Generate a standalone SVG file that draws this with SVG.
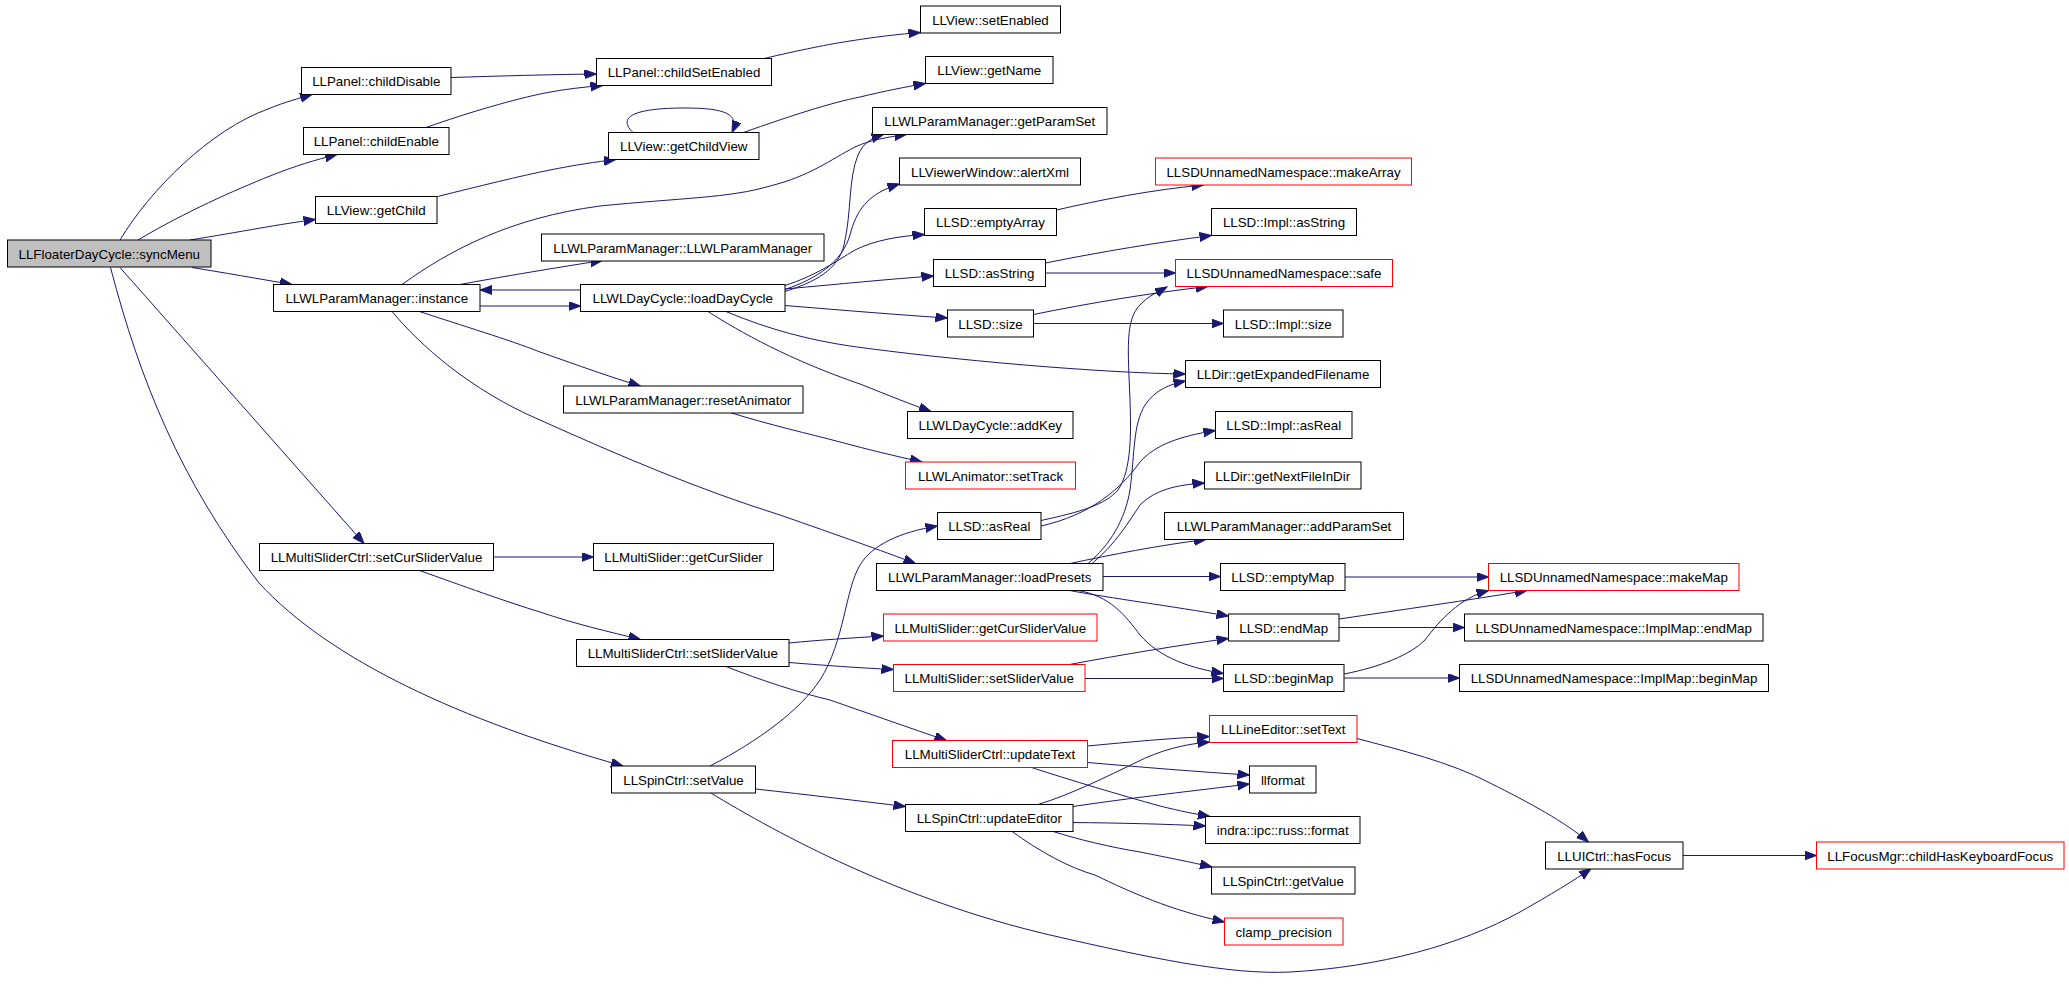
<svg xmlns="http://www.w3.org/2000/svg" width="2069" height="987" viewBox="0 0 2069 987">
<style>
.n rect{fill:#ffffff;stroke:#000000;stroke-width:1}
.n.red rect{stroke:#ff0000}
.n.root rect{fill:#bfbfbf}
.n text{font-family:"Liberation Sans",Arial,Helvetica,sans-serif;font-size:13.33px;text-anchor:middle;fill:#000000}
#edges path{fill:none;stroke:#191970;stroke-width:1;marker-end:url(#arr)}
</style>
<defs>
<marker id="arr" markerUnits="userSpaceOnUse" markerWidth="13" markerHeight="10" refX="12" refY="4.5" orient="auto">
<path d="M0,0 L12,4.5 L0,9 z" fill="#191970" stroke="#191970" stroke-width="1"/>
</marker>
</defs>
<rect x="0" y="0" width="2069" height="987" fill="#ffffff"/>
<g id="edges">
<path d="M120,240 C150,190 210,130 268,109 C285,102 300,98 312,94.5"/>
<path d="M138,240 C185,212 235,190 270,176 C295,166 315,160 337,154.5"/>
<path d="M190,240 C240,232 280,224 315.5,219.5"/>
<path d="M192,267.5 C220,272 260,279 292,284.5"/>
<path d="M120,267.5 L364,543.5"/>
<path d="M110.5,267.5 C140,380 180,480 259,583 C330,660 460,720 623,766"/>
<path d="M451,77.5 C500,76 550,74.5 596.5,74"/>
<path d="M426,127.5 C470,112 515,99 545,93 C565,89 585,87 602.5,85.5"/>
<path d="M764,58.5 C800,50 830,44 850,41 C875,37 900,34 920.5,32.5"/>
<path d="M437.5,196.5 C480,186 520,176 550,170 C575,165 595,162 616,159.5"/>
<path d="M633,132.5 C615,115 640,108 685,108 C725,108 740,114 732,132.5"/>
<path d="M743.5,132.5 C790,116 830,103 860,97 C885,91 905,87 925.5,83.5"/>
<path d="M402,284.5 C450,250 510,218 600,206 C680,198 730,198 770,186 C810,176 830,160 855,147 C870,140 888,137 906.5,134.5"/>
<path d="M785,291.5 C815,282 838,270 844,245 C852,210 848,180 858,155 C864,142 872,138 883.5,134.5"/>
<path d="M785,289.5 C818,278 842,262 850,235 C856,212 866,194 899.5,184"/>
<path d="M785,285.5 C815,276 835,262 855,250 C875,240 900,236 924.5,234.5"/>
<path d="M785,289 C840,284 890,279 933.5,276"/>
<path d="M785,305.5 C840,310 900,315 947.5,318"/>
<path d="M708,311.5 C740,332 790,360 860,384 C890,396 910,404 931,411.5"/>
<path d="M726,311.5 C770,330 810,340 850,346 C950,360 1100,373 1185.5,374"/>
<path d="M460,284.5 C500,277 560,267 602.5,260.5"/>
<path d="M580.5,290 L480,290"/>
<path d="M480,306 C510,306 540,306 580.5,306"/>
<path d="M419.5,311.5 C460,325 510,340 540,352 C580,366 610,377 640.5,386"/>
<path d="M392,311.5 C420,345 470,390 540,420 C620,456 700,490 780,515 C840,536 880,550 915.5,563.5"/>
<path d="M730,412.5 C770,425 810,434 840,442 C870,450 895,456 922,462"/>
<path d="M1056.5,210 C1100,200 1150,190 1203.5,185"/>
<path d="M1045.5,263 C1100,252 1160,242 1211.5,235.5"/>
<path d="M1045.5,273 L1175.5,273"/>
<path d="M1033.5,314.5 C1090,303 1150,293 1208,286.5"/>
<path d="M1033.5,323.5 L1223.5,323.5"/>
<path d="M1041,520.5 C1080,512 1105,505 1118,490 C1132,470 1131,430 1130,400 C1128,350 1125,320 1140,305 C1148,296 1158,292 1167,287"/>
<path d="M1041,526 C1090,515 1120,490 1140,462 C1155,445 1180,436 1215.5,430.5"/>
<path d="M1088,563.5 C1110,545 1125,520 1130,490 C1135,450 1133,425 1145,405 C1155,390 1170,384 1185.5,381"/>
<path d="M1092,563.5 C1115,545 1130,520 1140,505 C1155,490 1175,485 1204.5,483"/>
<path d="M1070,563.5 C1110,555 1160,545 1206,539.5"/>
<path d="M1103,576.5 L1220.5,576.5"/>
<path d="M1069.5,590.5 C1110,598 1170,606 1228.5,616"/>
<path d="M1078,590.5 C1110,596 1125,615 1140,635 C1160,658 1190,668 1223.5,673.5"/>
<path d="M1345,577 L1488.5,577"/>
<path d="M1339,619 C1400,610 1470,600 1527,590.5"/>
<path d="M1339,627.5 L1464.5,627.5"/>
<path d="M1344,674 C1380,667 1410,655 1425,640 C1440,620 1460,598 1488.5,590.5"/>
<path d="M1344,678 L1459.5,678"/>
<path d="M493.5,557 L593.5,557"/>
<path d="M419.5,570.5 C460,585 510,603 540,612 C575,624 610,632 640.5,639.5"/>
<path d="M789,643 C820,640 850,638 883.5,636"/>
<path d="M789,662.5 C820,665 860,668 893.5,669.5"/>
<path d="M726,666.5 C760,680 800,693 830,700 C870,714 910,728 946.5,740.5"/>
<path d="M1069.5,664.5 C1120,655 1180,645 1228.5,638.5"/>
<path d="M1085,678.5 L1223.5,678.5"/>
<path d="M710,766 C760,740 800,710 820,680 C845,640 845,590 860,565 C872,545 900,532 937.5,526"/>
<path d="M755.5,789 C810,795 860,801 905.5,806.5"/>
<path d="M710,792.5 C780,835 900,900 1050,935 C1150,958 1230,975 1290,972 C1380,967 1460,945 1520,912 C1550,895 1575,880 1591,868.5"/>
<path d="M1087.5,746 C1130,742 1170,738 1209.5,736.5"/>
<path d="M1087.5,762.5 C1140,767 1200,772 1249.5,775"/>
<path d="M1031.5,767.5 C1070,780 1120,795 1160,806 C1180,811 1195,814 1210,816.5"/>
<path d="M1038,804.5 C1070,795 1110,775 1135,763 C1160,750 1185,744 1209.5,742"/>
<path d="M1073,806.5 C1130,798 1200,790 1249.5,784"/>
<path d="M1073,822.5 C1120,823 1165,824 1205.5,826"/>
<path d="M1051.5,831 C1080,840 1110,847 1140,852 C1170,858 1190,862 1212,867"/>
<path d="M1011.5,831 C1040,852 1070,868 1095,875 C1130,892 1170,910 1224.5,922"/>
<path d="M1357,738.5 C1400,750 1450,762 1490,783 C1530,803 1565,822 1588.5,842"/>
<path d="M1683,855.5 L1816.5,855.5"/>
</g>
<g id="syncMenu" class="n root"><rect x="7.5" y="240" width="203.5" height="27"/><text x="109.25" y="258.5">LLFloaterDayCycle::syncMenu</text></g>
<g id="childDisable" class="n"><rect x="301.5" y="67.5" width="149.5" height="27"/><text x="376.25" y="86">LLPanel::childDisable</text></g>
<g id="childEnable" class="n"><rect x="303.5" y="127.5" width="145.5" height="27"/><text x="376.25" y="146">LLPanel::childEnable</text></g>
<g id="getChild" class="n"><rect x="315.5" y="196.5" width="121.5" height="27"/><text x="376.25" y="215">LLView::getChild</text></g>
<g id="instance" class="n"><rect x="273.5" y="284.5" width="206.5" height="27"/><text x="376.75" y="303">LLWLParamManager::instance</text></g>
<g id="setCurSliderValue" class="n"><rect x="259.5" y="543.5" width="234" height="27"/><text x="376.5" y="562">LLMultiSliderCtrl::setCurSliderValue</text></g>
<g id="spinSetValue" class="n"><rect x="611.5" y="766" width="144" height="27"/><text x="683.5" y="784.5">LLSpinCtrl::setValue</text></g>
<g id="childSetEnabled" class="n"><rect x="596.5" y="58.5" width="175" height="27"/><text x="684" y="77">LLPanel::childSetEnabled</text></g>
<g id="getChildView" class="n"><rect x="608.5" y="132.5" width="150.5" height="27"/><text x="683.75" y="151">LLView::getChildView</text></g>
<g id="ctor" class="n"><rect x="541.5" y="234" width="282.5" height="27"/><text x="682.75" y="252.5">LLWLParamManager::LLWLParamManager</text></g>
<g id="loadDayCycle" class="n"><rect x="580.5" y="284.5" width="204.5" height="27"/><text x="682.75" y="303">LLWLDayCycle::loadDayCycle</text></g>
<g id="resetAnimator" class="n"><rect x="563.5" y="386" width="239.5" height="27"/><text x="683.25" y="404.5">LLWLParamManager::resetAnimator</text></g>
<g id="getCurSlider" class="n"><rect x="593.5" y="543.5" width="180" height="27"/><text x="683.5" y="562">LLMultiSlider::getCurSlider</text></g>
<g id="mscSetSliderValue" class="n"><rect x="576.5" y="639.5" width="212.5" height="27"/><text x="682.75" y="658">LLMultiSliderCtrl::setSliderValue</text></g>
<g id="setEnabled" class="n"><rect x="920.5" y="6" width="140" height="27"/><text x="990.5" y="24.5">LLView::setEnabled</text></g>
<g id="getName" class="n"><rect x="925.5" y="56.5" width="127.5" height="27"/><text x="989.25" y="75">LLView::getName</text></g>
<g id="getParamSet" class="n"><rect x="872.5" y="107.5" width="234.5" height="27"/><text x="989.75" y="126">LLWLParamManager::getParamSet</text></g>
<g id="alertXml" class="n"><rect x="899.5" y="158" width="181" height="27"/><text x="990" y="176.5">LLViewerWindow::alertXml</text></g>
<g id="emptyArray" class="n"><rect x="924.5" y="208.5" width="132" height="27"/><text x="990.5" y="227">LLSD::emptyArray</text></g>
<g id="asString" class="n"><rect x="933.5" y="259.5" width="112" height="27"/><text x="989.5" y="278">LLSD::asString</text></g>
<g id="size" class="n"><rect x="947.5" y="310" width="86" height="27"/><text x="990.5" y="328.5">LLSD::size</text></g>
<g id="addKey" class="n"><rect x="907.5" y="411.5" width="165.5" height="27"/><text x="990.25" y="430">LLWLDayCycle::addKey</text></g>
<g id="setTrack" class="n red"><rect x="905.5" y="462" width="170" height="27"/><text x="990.5" y="480.5">LLWLAnimator::setTrack</text></g>
<g id="asReal" class="n"><rect x="937.5" y="512.5" width="103.5" height="27"/><text x="989.25" y="531">LLSD::asReal</text></g>
<g id="loadPresets" class="n"><rect x="876.5" y="563.5" width="226.5" height="27"/><text x="989.75" y="582">LLWLParamManager::loadPresets</text></g>
<g id="getCurSliderValue" class="n red"><rect x="883.5" y="614" width="213.5" height="27"/><text x="990.25" y="632.5">LLMultiSlider::getCurSliderValue</text></g>
<g id="msSetSliderValue" class="n red"><rect x="893.5" y="664.5" width="191.5" height="27"/><text x="989.25" y="683">LLMultiSlider::setSliderValue</text></g>
<g id="updateText" class="n red"><rect x="892.5" y="740.5" width="195" height="27"/><text x="990" y="759">LLMultiSliderCtrl::updateText</text></g>
<g id="updateEditor" class="n"><rect x="905.5" y="804.5" width="167.5" height="27"/><text x="989.25" y="823">LLSpinCtrl::updateEditor</text></g>
<g id="makeArray" class="n red"><rect x="1155.5" y="158" width="256" height="27"/><text x="1283.5" y="176.5">LLSDUnnamedNamespace::makeArray</text></g>
<g id="implAsString" class="n"><rect x="1211.5" y="208.5" width="145" height="27"/><text x="1284" y="227">LLSD::Impl::asString</text></g>
<g id="safe" class="n red"><rect x="1175.5" y="259.5" width="217" height="27"/><text x="1284" y="278">LLSDUnnamedNamespace::safe</text></g>
<g id="implSize" class="n"><rect x="1223.5" y="310" width="119.5" height="27"/><text x="1283.25" y="328.5">LLSD::Impl::size</text></g>
<g id="getExpandedFilename" class="n"><rect x="1185.5" y="360.5" width="195" height="27"/><text x="1283" y="379">LLDir::getExpandedFilename</text></g>
<g id="implAsReal" class="n"><rect x="1215.5" y="411.5" width="136.5" height="27"/><text x="1283.75" y="430">LLSD::Impl::asReal</text></g>
<g id="getNextFileInDir" class="n"><rect x="1204.5" y="462" width="156.5" height="27"/><text x="1282.75" y="480.5">LLDir::getNextFileInDir</text></g>
<g id="addParamSet" class="n"><rect x="1164.5" y="512.5" width="239" height="27"/><text x="1284" y="531">LLWLParamManager::addParamSet</text></g>
<g id="emptyMap" class="n"><rect x="1220.5" y="563.5" width="124.5" height="27"/><text x="1282.75" y="582">LLSD::emptyMap</text></g>
<g id="endMap" class="n"><rect x="1228.5" y="614" width="110.5" height="27"/><text x="1283.75" y="632.5">LLSD::endMap</text></g>
<g id="beginMap" class="n"><rect x="1223.5" y="664.5" width="120.5" height="27"/><text x="1283.75" y="683">LLSD::beginMap</text></g>
<g id="setText" class="n red"><rect x="1209.5" y="715.5" width="147.5" height="27"/><text x="1283.25" y="734">LLLineEditor::setText</text></g>
<g id="llformat" class="n"><rect x="1249.5" y="766" width="66.5" height="27"/><text x="1282.75" y="784.5">llformat</text></g>
<g id="russFormat" class="n"><rect x="1205.5" y="816.5" width="154.5" height="27"/><text x="1282.75" y="835">indra::ipc::russ::format</text></g>
<g id="spinGetValue" class="n"><rect x="1211.5" y="867" width="143.5" height="27"/><text x="1283.25" y="885.5">LLSpinCtrl::getValue</text></g>
<g id="clampPrecision" class="n red"><rect x="1224.5" y="918" width="118.5" height="27"/><text x="1283.75" y="936.5">clamp_precision</text></g>
<g id="makeMap" class="n red"><rect x="1488.5" y="563.5" width="250.5" height="27"/><text x="1613.75" y="582">LLSDUnnamedNamespace::makeMap</text></g>
<g id="implMapEndMap" class="n"><rect x="1464.5" y="614" width="298.5" height="27"/><text x="1613.75" y="632.5">LLSDUnnamedNamespace::ImplMap::endMap</text></g>
<g id="implMapBeginMap" class="n"><rect x="1459.5" y="664.5" width="309" height="27"/><text x="1614" y="683">LLSDUnnamedNamespace::ImplMap::beginMap</text></g>
<g id="hasFocus" class="n"><rect x="1545.5" y="842" width="137.5" height="27"/><text x="1614.25" y="860.5">LLUICtrl::hasFocus</text></g>
<g id="childHasKeyboardFocus" class="n red"><rect x="1816.5" y="842" width="247.5" height="27"/><text x="1940.25" y="860.5">LLFocusMgr::childHasKeyboardFocus</text></g>
</svg>
